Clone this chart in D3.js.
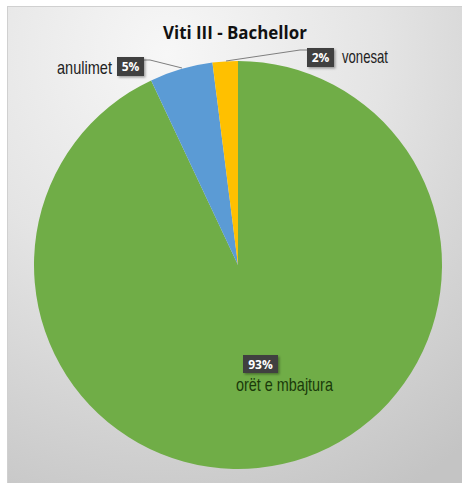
<!DOCTYPE html>
<html>
<head>
<meta charset="utf-8">
<script src="https://cdn.jsdelivr.net/npm/d3@7"></script>
<style>
  html, body { margin: 0; padding: 0; background: #ffffff; }
  svg { display: block; }
</style>
</head>
<body>
<svg id="chart" width="462" height="483"></svg>
<script>
const title = "Viti III - Bachellor";
const categories = ["orët e mbajtura", "anulimet", "vonesat"];
const values = [93, 5, 2];
const colors = ["#70ad47", "#5b9bd5", "#ffc000"];

const svg = d3.select("#chart");
const W = 462, H = 483;

const defs = svg.append("defs");
const grad = defs.append("radialGradient")
  .attr("id", "bg").attr("cx", "0.35").attr("cy", "0.1").attr("r", "1.05")
  .attr("gradientUnits", "objectBoundingBox");
grad.append("stop").attr("offset", "0").attr("stop-color", "#f7f7f7");
grad.append("stop").attr("offset", "0.45").attr("stop-color", "#e4e4e4");
grad.append("stop").attr("offset", "1").attr("stop-color", "#c4c4c4");

const shadow = defs.append("filter").attr("id", "sh").attr("x", "-20%").attr("y", "-20%").attr("width", "150%").attr("height", "150%");
shadow.append("feDropShadow").attr("dx", 1.5).attr("dy", 1.5).attr("stdDeviation", 1).attr("flood-color", "#000").attr("flood-opacity", 0.35);

svg.append("rect").attr("x", 7.5).attr("y", 6.5).attr("width", W - 7).attr("height", H - 6)
  .attr("fill", "url(#bg)").attr("stroke", "#d0d0d0").attr("stroke-width", 1);

function fitText(sel, x, y, len) {
  const w = sel.node().getComputedTextLength();
  const sx = len / w;
  sel.attr("x", 0).attr("y", 0).attr("transform", `translate(${x},${y}) scale(${sx},1)`);
}

const t = svg.append("text").attr("text-anchor", "start")
  .attr("font-family", "'Open Sans', sans-serif").attr("font-weight", "bold").attr("font-size", 17)
  .attr("fill", "#111").text(title);
fitText(t, 163, 39, 144);

const cx = 238, cy = 265, R = 204;
const pie = d3.pie().sort(null).value(d => d)(values);
const arc = d3.arc().innerRadius(0).outerRadius(R);
const g = svg.append("g").attr("transform", `translate(${cx},${cy})`);
g.selectAll("path").data(pie).join("path")
  .attr("d", arc).attr("fill", (d, i) => colors[i]);

const total = d3.sum(values);
const pct = v => Math.round(v / total * 100) + "%";

const labels = [
  { box: [243, 355, 35, 18], text: [236, 391], len: 97, leader: null },
  { box: [117, 57, 27, 19], text: [57, 74], len: 55, leader: [[144, 60], [150, 60], [182, 68]] },
  { box: [307, 48, 27, 19], text: [342, 63], len: 46, leader: [[226, 61], [300, 50], [307, 50]] }
];
const textColors = ["#1a3a0a", "#222", "#222"];

labels.forEach((L, i) => {
  if (L.leader) {
    svg.append("path").attr("d", d3.line()(L.leader))
      .attr("fill", "none").attr("stroke", "#7f7f7f").attr("stroke-width", 1);
  }
  svg.append("rect").attr("x", L.box[0]).attr("y", L.box[1]).attr("width", L.box[2]).attr("height", L.box[3])
    .attr("fill", "#404040").attr("filter", "url(#sh)");
  svg.append("text").attr("x", L.box[0] + L.box[2] / 2).attr("y", L.box[1] + L.box[3] / 2 + 4.5)
    .attr("text-anchor", "middle").attr("font-family", "'Open Sans', sans-serif").attr("font-weight", "bold")
    .attr("font-size", 12).attr("fill", "#fff").text(pct(values[i]));
  const lt = svg.append("text").attr("text-anchor", "start")
    .attr("font-family", "'Liberation Sans', Arial, sans-serif")
    .attr("font-size", 18).attr("fill", textColors[i]).text(categories[i]);
  fitText(lt, L.text[0], L.text[1], L.len);
});
</script>
</body>
</html>
